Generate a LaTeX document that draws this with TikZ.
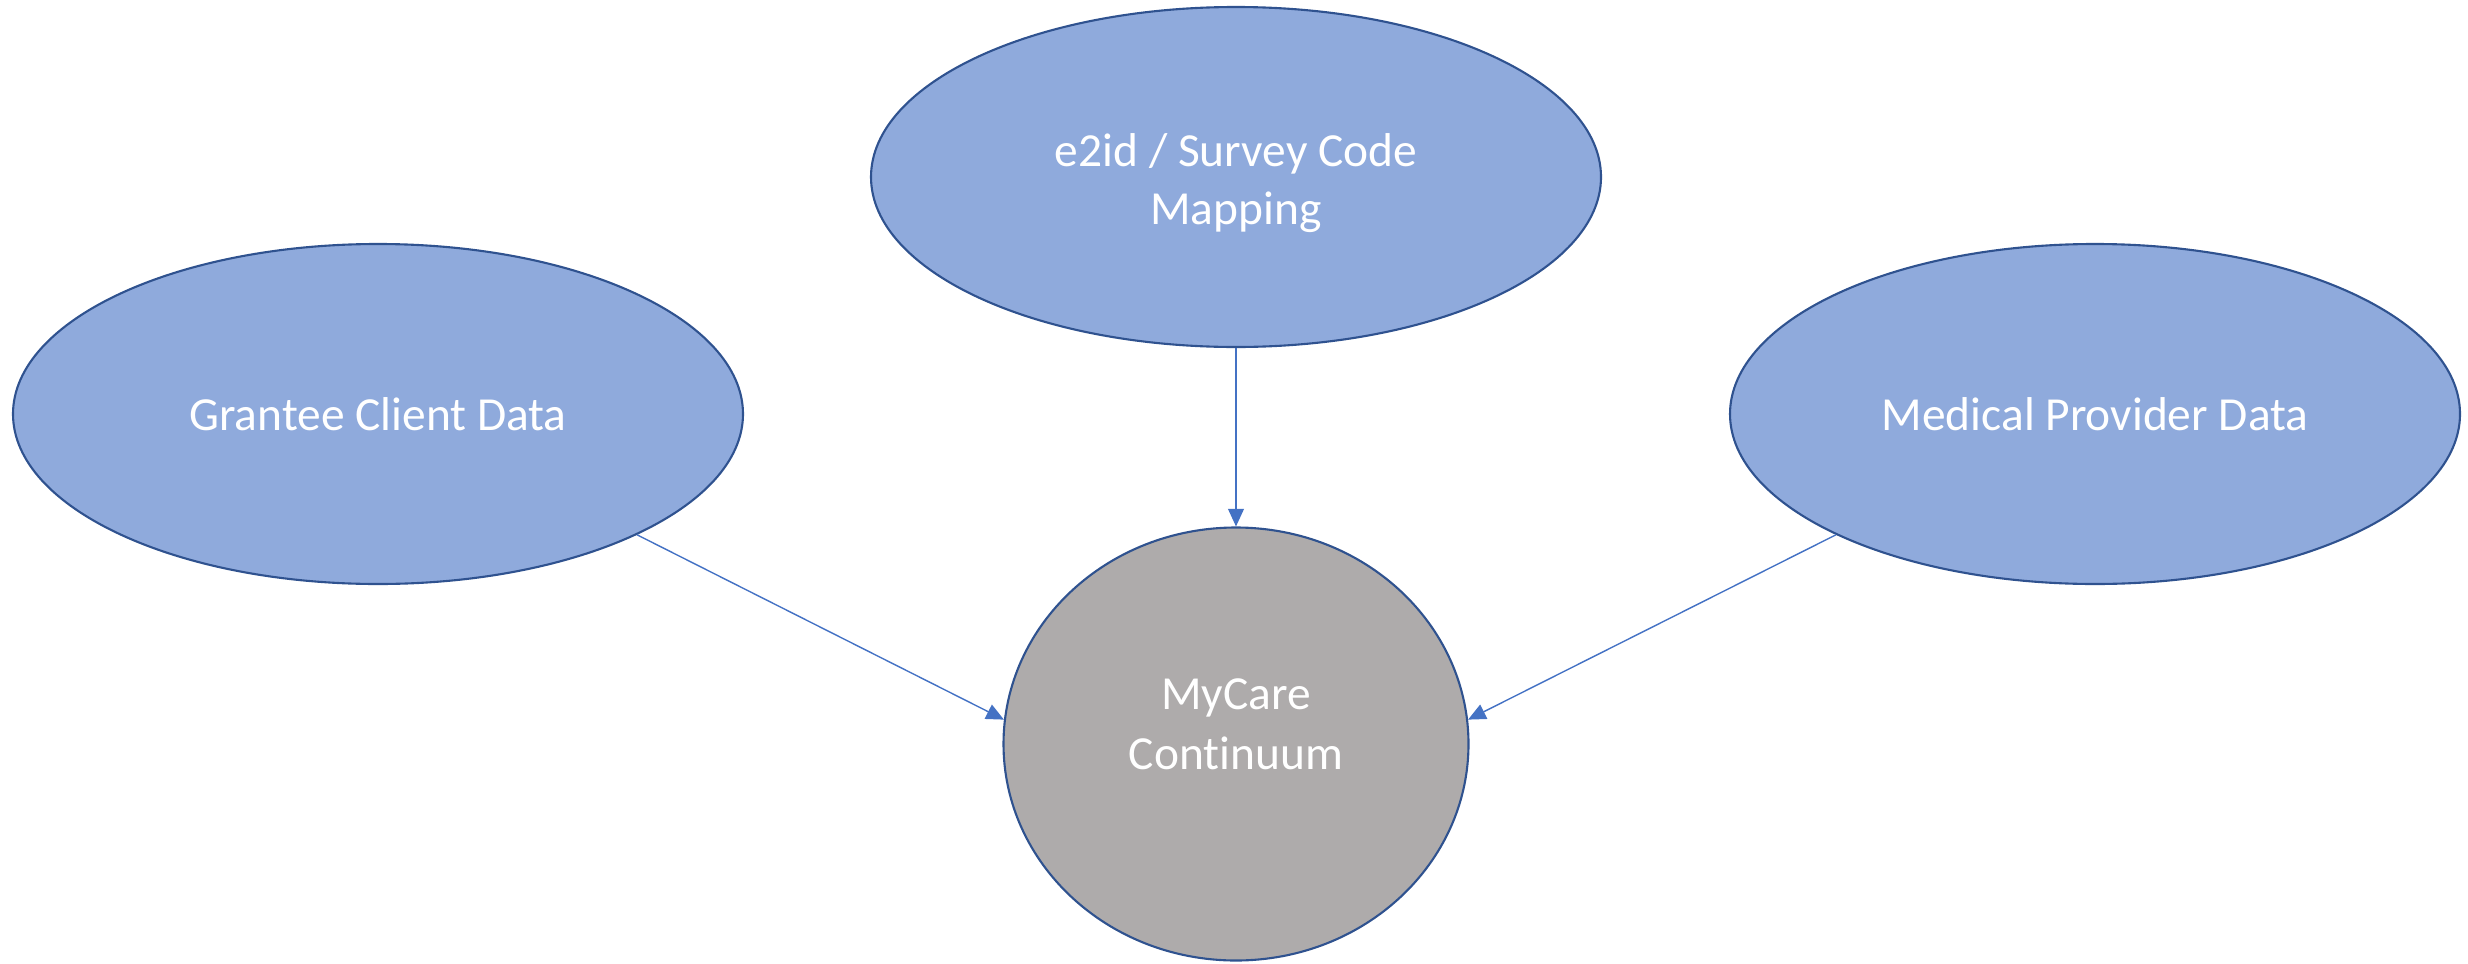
\documentclass[tikz,border=0pt]{standalone}
\usepackage{fontspec}
\setmainfont{Carlito}[Ligatures=NoCommon]
\usetikzlibrary{shapes.geometric,arrows.meta}
\definecolor{srcfill}{HTML}{8FAADC}
\definecolor{srcline}{HTML}{2F528F}
\definecolor{hubfill}{HTML}{AEABAB}
\definecolor{linkcol}{HTML}{4472C4}
\tikzset{
  label text/.style={text=white, align=center, font=\fontsize{13.5}{16.5}\selectfont},
  source/.style={ellipse, draw=srcline, fill=srcfill, line width=0.6pt,
    minimum width=7.3cm, minimum height=3.4cm, label text},
  hub/.style={source, fill=hubfill, minimum width=4.65cm, minimum height=4.33cm},
  feed/.style={draw=linkcol, line width=0.4pt, -{Triangle[length=5pt,width=4.5pt]}}
}
\begin{document}
\begin{tikzpicture}
      \useasboundingbox (0, 0) rectangle (24.68, 9.63);
      \node[source] (grantee) at (3.78, 5.49) {Grantee Client Data};
      \node[source] (mapping) at (12.36, 7.86) {};
      \node[label text] (mappingtext) at ([yshift=-0.06cm]mapping.center) {e2id / Survey Code\\Mapping};
      \node[source] (medical) at (20.95, 5.49) {Medical Provider Data};
      \node[hub] (mycare) at (12.36, 2.19) {};
      \node[label text, font=\fontsize{13.5}{17}\selectfont] (mycaretext) at ([yshift=0.2cm]mycare.center) {MyCare\\Continuum};

      \foreach \from/\to in {grantee.-25/mycare.174, mapping.south/mycare.north, medical.-155/mycare.6} {
        \draw[feed] (\from) -- (\to);
      }
    \end{tikzpicture}
\end{document}
